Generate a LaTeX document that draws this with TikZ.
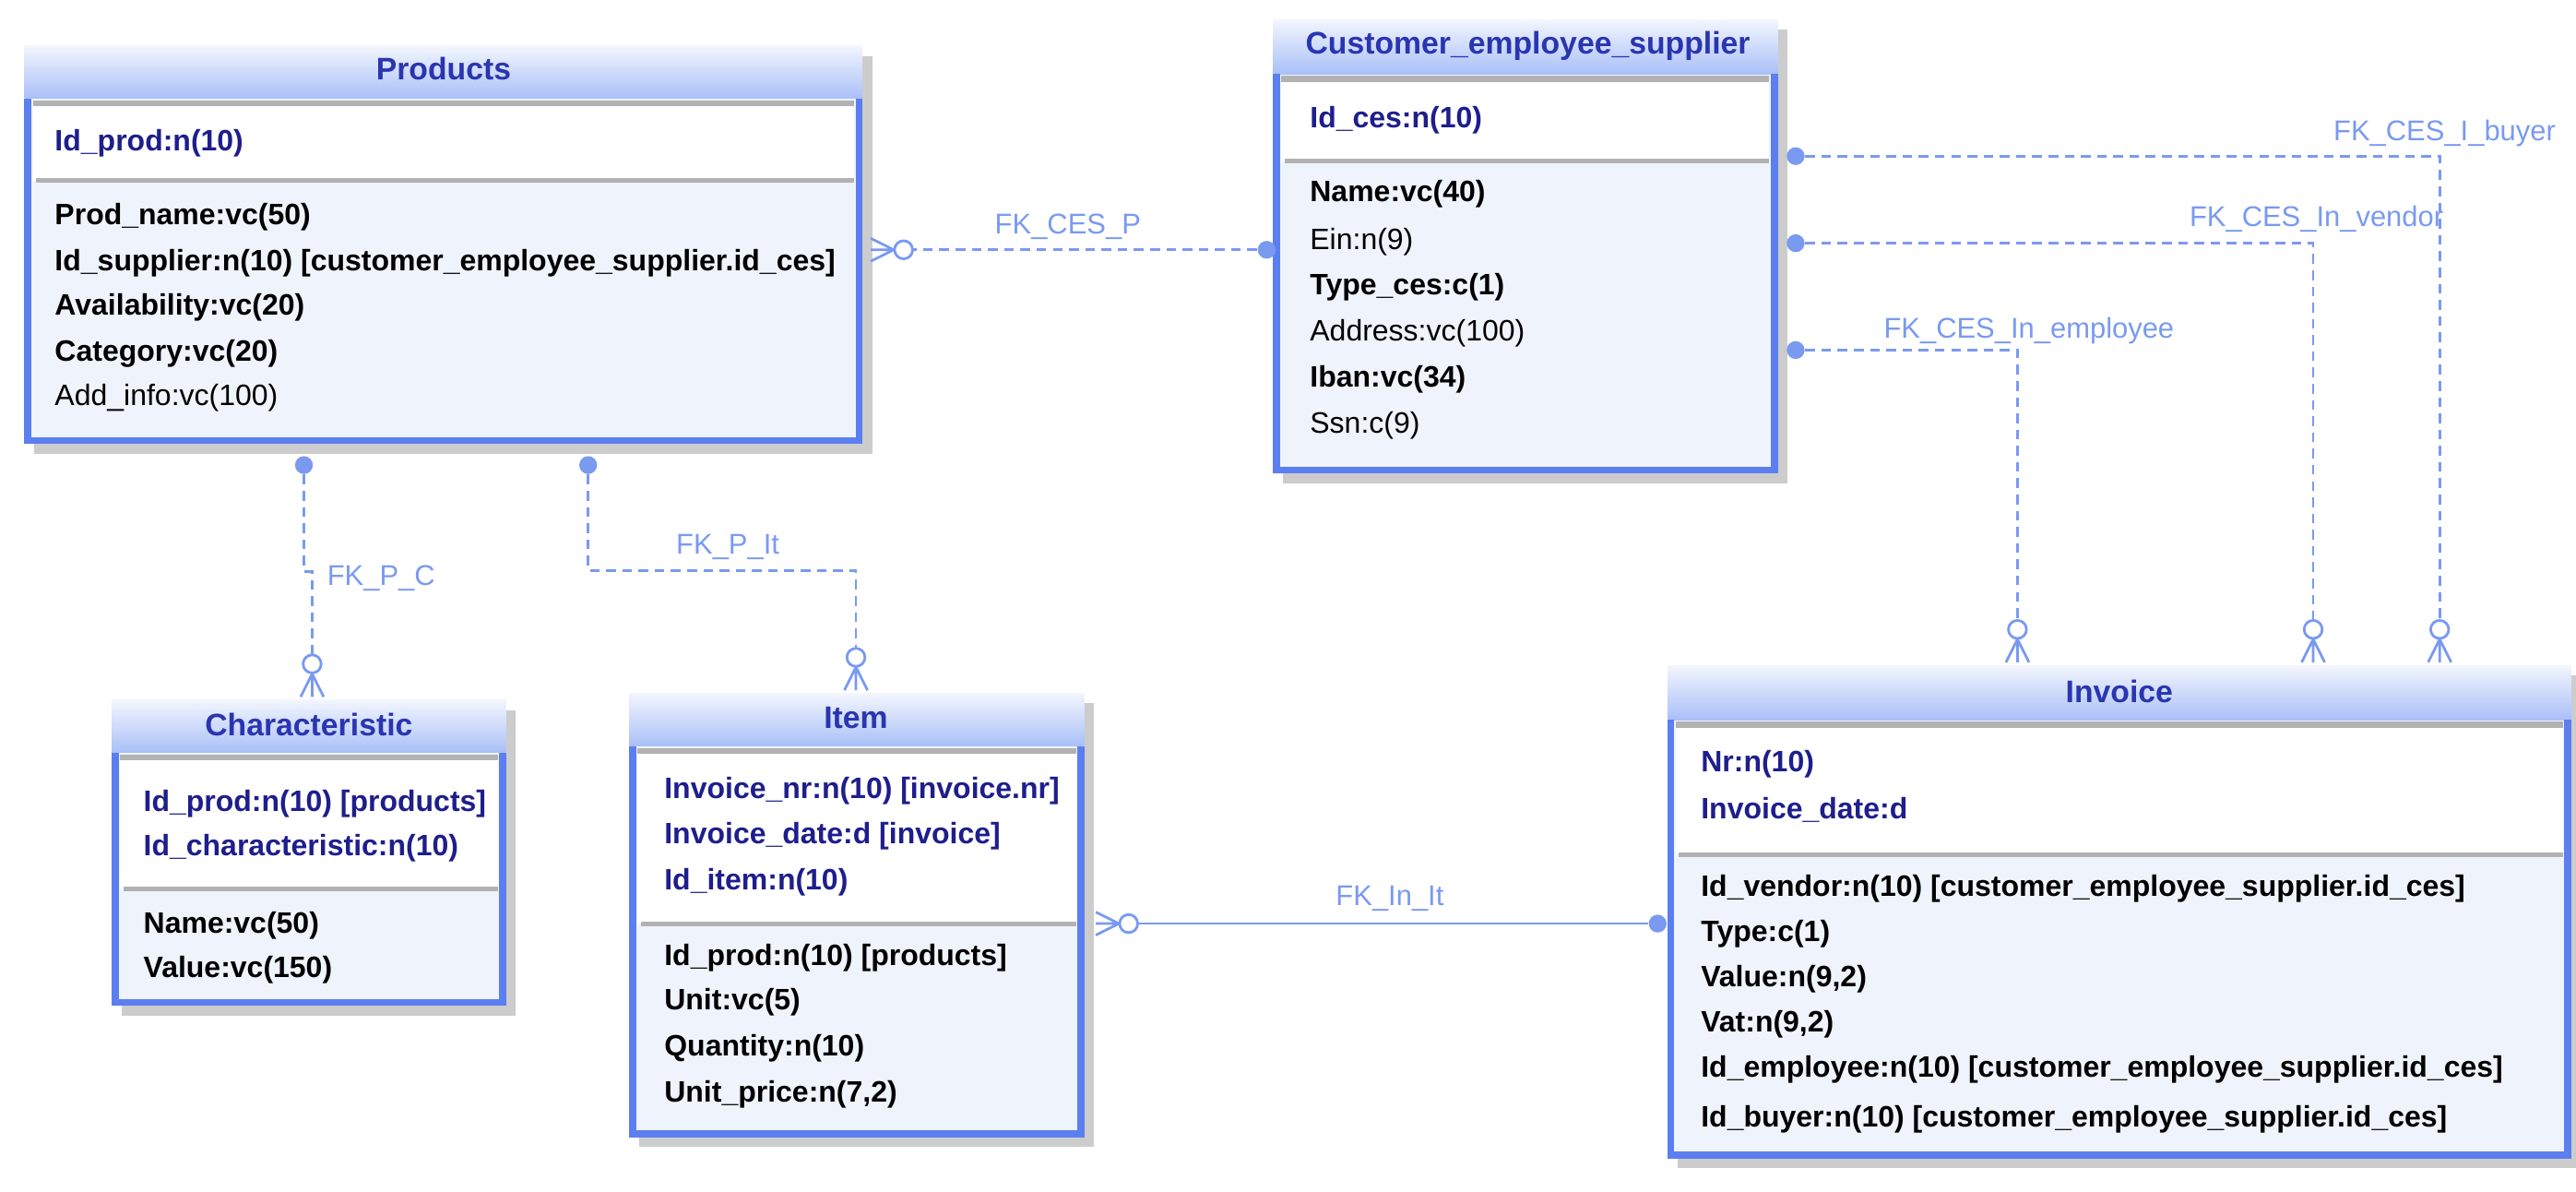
\documentclass[tikz,border=0pt]{standalone}
\usepackage{fontspec}
\setmainfont{Liberation Sans}
\usetikzlibrary{calc}
\begin{document}
\definecolor{bord}{HTML}{5B7EF0}
\definecolor{fillb}{HTML}{EFF3FC}
\definecolor{hdr}{HTML}{A9BFF7}
\definecolor{ttl}{HTML}{2A35B0}
\definecolor{keyc}{HTML}{1E1E8C}
\definecolor{conn}{HTML}{7A9AF0}
\begin{tikzpicture}[x=0.01781cm,y=-0.01781cm,
  row/.style={anchor=west,inner sep=0pt,font=\fontsize{9.1}{10}\selectfont\bfseries},
  rowr/.style={anchor=west,inner sep=0pt,font=\fontsize{9.1}{10}\selectfont},
  key/.style={row,text=keyc},
  ttl/.style={inner sep=0pt,font=\fontsize{9.6}{10}\selectfont\bfseries,text=ttl},
  lbl/.style={inner sep=0pt,font=\fontsize{8.8}{9}\selectfont,text=conn},
  cn/.style={conn,line width=0.8pt,densely dashed},
  cs/.style={conn,line width=0.8pt},
  dot/.style={circle,fill=conn,inner sep=0pt,minimum size=5.5pt}]
\useasboundingbox (0,0) rectangle (1568,725);
\newcommand\tbl[7]{% name x1 y1 x2 y2 hdrbottom divider
  \fill[gray!40] (#2+6,#3+6) rectangle (#4+6,#5+6);
  \fill[fillb] (#2,#3) rectangle (#4,#5);
  \shade[top color=white!85!hdr,bottom color=hdr] (#2,#3) rectangle (#4,#6);
  \fill[white] (#2+5,#6+4) rectangle (#4-5,#7);
  \draw[gray!60,line width=1.8pt] (#2+5,#6+3) -- (#4-5,#6+3);
  \draw[gray!60,line width=1.4pt] (#2+7,#7) -- (#4-5,#7);
  \draw[bord,line width=2.2pt] (#2+2,#6) -- (#2+2,#5-2) -- (#4-2,#5-2) -- (#4-2,#6);
  \coordinate (#1) at (#2,#3);
}
% Products
\tbl{prod}{15}{28}{525}{270}{60}{110}
\node[ttl] (prodT) at (270,42) {Products};
\node[key] (p1) at (33,87) {Id\_prod:n(10)};
\node[row] (p2) at (33,132) {Prod\_name:vc(50)};
\node[row] (p3) at (33,160) {Id\_supplier:n(10) [customer\_employee\_supplier.id\_ces]};
\node[row] (p4) at (33,187) {Availability:vc(20)};
\node[row] (p5) at (33,215) {Category:vc(20)};
\node[rowr] (p6) at (33,242) {Add\_info:vc(100)};
% CES
\tbl{ces}{775}{12}{1082}{288}{45}{98}
\node[ttl] (cesT) at (930,28) {Customer\_employee\_supplier};
\node[key] (c1) at (797,73) {Id\_ces:n(10)};
\node[row] (c2) at (797,118) {Name:vc(40)};
\node[rowr] (c3) at (797,147) {Ein:n(9)};
\node[row] (c4) at (797,175) {Type\_ces:c(1)};
\node[rowr] (c5) at (797,203) {Address:vc(100)};
\node[row] (c6) at (797,231) {Iban:vc(34)};
\node[rowr] (c7) at (797,259) {Ssn:c(9)};
% Characteristic
\tbl{cha}{68}{426}{308}{612}{458}{541}
\node[ttl] (chaT) at (188,441) {Characteristic};
\node[key] (h1) at (87,489) {Id\_prod:n(10) [products]};
\node[key] (h2) at (87,516) {Id\_characteristic:n(10)};
\node[row] (h3) at (87,563) {Name:vc(50)};
\node[row] (h4) at (87,590) {Value:vc(150)};
% Item
\tbl{item}{383}{422}{660}{692}{454}{562}
\node[ttl] (itemT) at (521,437) {Item};
\node[key] (i1) at (404,481) {Invoice\_nr:n(10) [invoice.nr]};
\node[key] (i2) at (404,509) {Invoice\_date:d [invoice]};
\node[key] (i3) at (404,537) {Id\_item:n(10)};
\node[row] (i4) at (404,583) {Id\_prod:n(10) [products]};
\node[row] (i5) at (404,610) {Unit:vc(5)};
\node[row] (i6) at (404,638) {Quantity:n(10)};
\node[row] (i7) at (404,666) {Unit\_price:n(7,2)};
% Invoice
\tbl{inv}{1015}{405}{1565}{705}{438}{520}
\node[ttl] (invT) at (1290,421) {Invoice};
\node[key] (v1) at (1035,465) {Nr:n(10)};
\node[key] (v2) at (1035,493) {Invoice\_date:d};
\node[row] (v3) at (1035,541) {Id\_vendor:n(10) [customer\_employee\_supplier.id\_ces]};
\node[row] (v4) at (1035,568) {Type:c(1)};
\node[row] (v5) at (1035,596) {Value:n(9,2)};
\node[row] (v6) at (1035,623) {Vat:n(9,2)};
\node[row] (v7) at (1035,651) {Id\_employee:n(10) [customer\_employee\_supplier.id\_ces]};
\node[row] (v8) at (1035,681) {Id\_buyer:n(10) [customer\_employee\_supplier.id\_ces]};
% endpoints
\node[dot] (dCESP) at (771,152) {};
\coordinate (eCESP) at (530,152);
\node[dot] (dPC) at (185,283) {};
\coordinate (ePC) at (190,424);
\node[dot] (dPIt) at (358,283) {};
\coordinate (ePIt) at (521,420);
\node[dot] (dInIt) at (1009,562) {};
\coordinate (eInIt) at (667,562);
\node[dot] (dEmp) at (1093,213) {};
\coordinate (eEmp) at (1228,403);
\node[dot] (dVen) at (1093,148) {};
\coordinate (eVen) at (1408,403);
\node[dot] (dBuy) at (1093,95) {};
\coordinate (eBuy) at (1485,403);
% connectors
\draw[cn] (dCESP) -- ($(eCESP)+(26,0)$);
\draw[cn] (dPC) -- (185,348) -- (190,348) -- ($(ePC)+(0,-26)$);
\draw[cn] (dPIt) -- (358,347) -- (521,347) -- ($(ePIt)+(0,-26)$);
\draw[cs] (dInIt) -- ($(eInIt)+(26,0)$);
\draw[cn] (dEmp) -- (1228,213) -- ($(eEmp)+(0,-26)$);
\draw[cn] (dVen) -- (1408,148) -- ($(eVen)+(0,-26)$);
\draw[cn] (dBuy) -- (1485,95) -- ($(eBuy)+(0,-26)$);
% crow's feet with circle
\foreach \e in {eCESP,eInIt}{
  \draw[cs] ($(\e)+(14,0)$) -- ($(\e)+(0,-7)$) ($(\e)+(14,0)$) -- (\e) ($(\e)+(14,0)$) -- ($(\e)+(0,7)$);
  \draw[cs,fill=white] ($(\e)+(20,0)$) circle[radius=5.5];}
\foreach \e in {ePC,ePIt,eEmp,eVen,eBuy}{
  \draw[cs] ($(\e)+(0,-14)$) -- ($(\e)+(-7,0)$) ($(\e)+(0,-14)$) -- (\e) ($(\e)+(0,-14)$) -- ($(\e)+(7,0)$);
  \draw[cs,fill=white] ($(\e)+(0,-20)$) circle[radius=5.5];}
% labels
\node[lbl] (lCESP) at (650,138) {FK\_CES\_P};
\node[lbl] (lPC) at (232,352) {FK\_P\_C};
\node[lbl] (lPIt) at (443,333) {FK\_P\_It};
\node[lbl] (lInIt) at (846,547) {FK\_In\_It};
\node[lbl] (lEmp) at (1235,201) {FK\_CES\_In\_employee};
\node[lbl] (lVen) at (1410,133) {FK\_CES\_In\_vendor};
\node[lbl] (lBuy) at (1488,81) {FK\_CES\_I\_buyer};
\end{tikzpicture}
\end{document}
